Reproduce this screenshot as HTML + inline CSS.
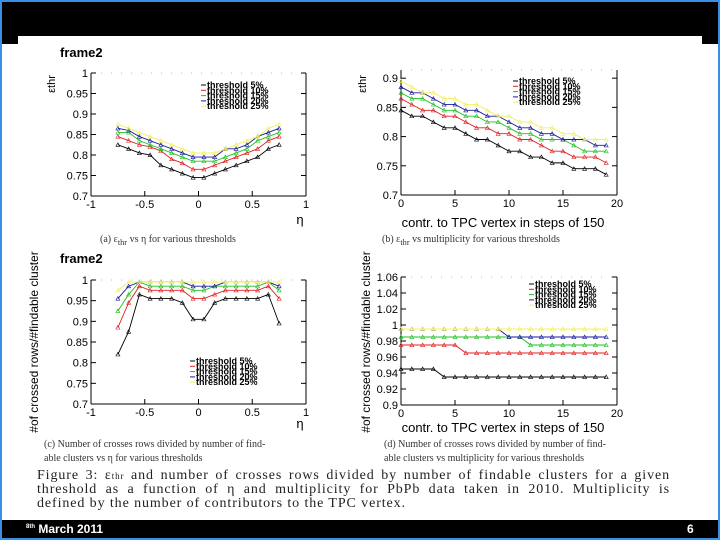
<!DOCTYPE html>
<html><head><meta charset="utf-8">
<style>
body{margin:0;width:720px;height:540px;overflow:hidden;background:#3a8ee6;font-family:"Liberation Sans",sans-serif}
#page{position:absolute;left:2px;top:2px;width:716px;height:536px;background:#fff}
.t{position:absolute;white-space:nowrap}
.serif{font-family:"Liberation Serif",serif;color:#333}
.cl{position:absolute;left:35px;width:633px;font-family:"Liberation Serif",serif;font-size:14px;letter-spacing:0.9px;color:#222;text-align:justify;text-align-last:justify;white-space:nowrap;line-height:14px}
</style></head><body>
<div id="page">
<div style="position:absolute;left:0;top:0;width:716px;height:34px;background:#000"></div>
<div style="position:absolute;left:0;top:34px;width:16px;height:8px;background:#000"></div>
<div style="position:absolute;left:700px;top:34px;width:16px;height:8px;background:#000"></div>
<div style="position:absolute;left:0;top:518px;width:716px;height:18px;background:#000"></div>
<div class="t" style="left:24px;top:520px;color:#fff;font-weight:bold;font-size:12px"><sup style="font-size:6px">8th</sup> March 2011</div>
<div class="t" style="left:685px;top:520px;color:#fff;font-weight:bold;font-size:12px">6</div>
<svg id="svg" width="716" height="536" style="position:absolute;left:-2px;top:-2px;overflow:visible"></svg>
<div class="t serif" style="left:98px;top:232px;font-size:10px">(a) ε<sub>thr</sub> vs η for various thresholds</div>
<div class="t serif" style="left:380px;top:232px;font-size:10px">(b) ε<sub>thr</sub> vs multiplicity for various thresholds</div>
<div class="t serif" style="left:42px;top:436px;font-size:10px;line-height:14px">(c) Number of crosses rows divided by number of find-<br>able clusters vs η for various thresholds</div>
<div class="t serif" style="left:382px;top:436px;font-size:10px;line-height:14px">(d) Number of crosses rows divided by number of find-<br>able clusters vs multiplicity for various thresholds</div>
<div>
<div class="cl" style="top:467px">Figure 3: ε<span style="font-size:9px">thr</span> and number of crosses rows divided by number of findable clusters for a given</div>
<div class="cl" style="top:481px">threshold as a function of η and multiplicity for PbPb data taken in 2010. Multiplicity is</div>
<div class="cl" style="top:495px;width:auto;text-align-last:auto">defined by the number of contributors to the TPC vertex.</div>
</div>
</div>
<script>
const etaCats=[-0.75,-0.65,-0.55,-0.45,-0.35,-0.25,-0.15,-0.05,0.05,0.15,0.25,0.35,0.45,0.55,0.65,0.75];
const multCats=[0,1,2,3,4,5,6,7,8,9,10,11,12,13,14,15,16,17,18,19];
const seriesNames=["threshold 5%","threshold 10%","threshold 15%","threshold 20%","threshold 25%"];
const seriesColors=["#000","#e02020","#20c020","#1a1a9a","#f0f060"];
const aBlack=[0.825,0.815,0.805,0.80,0.775,0.765,0.755,0.745,0.745,0.755,0.765,0.775,0.785,0.795,0.815,0.825];
const aRed=[0.845,0.835,0.825,0.82,0.81,0.79,0.78,0.765,0.765,0.775,0.785,0.795,0.805,0.815,0.835,0.845];
const aGreen=[0.855,0.855,0.835,0.825,0.815,0.805,0.795,0.785,0.785,0.785,0.795,0.805,0.815,0.835,0.845,0.855];
const aBlue=[0.865,0.86,0.845,0.835,0.825,0.815,0.805,0.795,0.795,0.795,0.815,0.815,0.825,0.845,0.855,0.865];
const aYellow=[0.875,0.865,0.855,0.845,0.835,0.825,0.815,0.805,0.805,0.805,0.815,0.825,0.835,0.845,0.865,0.875];
const bBlack=[0.845,0.835,0.835,0.825,0.815,0.815,0.805,0.795,0.795,0.785,0.775,0.775,0.765,0.765,0.755,0.755,0.745,0.745,0.745,0.735];
const bRed=[0.865,0.855,0.845,0.845,0.835,0.835,0.825,0.815,0.815,0.805,0.805,0.795,0.795,0.785,0.775,0.775,0.765,0.765,0.765,0.755];
const bGreen=[0.875,0.865,0.865,0.855,0.845,0.845,0.835,0.835,0.825,0.825,0.815,0.805,0.805,0.795,0.795,0.795,0.785,0.775,0.775,0.775];
const bBlue=[0.885,0.875,0.875,0.865,0.855,0.855,0.845,0.845,0.835,0.835,0.825,0.815,0.815,0.805,0.805,0.795,0.795,0.795,0.785,0.785];
const bYellow=[0.895,0.885,0.875,0.875,0.865,0.865,0.855,0.855,0.845,0.835,0.835,0.825,0.825,0.815,0.815,0.805,0.805,0.795,0.795,0.795];
const cBlack=[0.82,0.875,0.965,0.955,0.955,0.955,0.945,0.905,0.905,0.945,0.955,0.955,0.955,0.955,0.965,0.895];
const cRed=[0.885,0.945,0.985,0.975,0.975,0.975,0.975,0.955,0.955,0.965,0.975,0.975,0.975,0.975,0.985,0.955];
const cGreen=[0.925,0.965,0.995,0.985,0.985,0.985,0.985,0.975,0.975,0.985,0.985,0.985,0.985,0.985,0.995,0.975];
const cBlue=[0.955,0.985,0.995,0.995,0.995,0.995,0.995,0.985,0.985,0.985,0.995,0.995,0.995,0.995,0.995,0.985];
const cYellow=[0.975,0.995,0.995,0.995,0.995,0.995,0.995,0.995,0.995,0.995,0.995,0.995,0.995,0.995,0.995,0.995];
const dBlack=[0.945,0.945,0.945,0.945,0.935,0.935,0.935,0.935,0.935,0.935,0.935,0.935,0.935,0.935,0.935,0.935,0.935,0.935,0.935,0.935];
const dRed=[0.975,0.975,0.975,0.975,0.975,0.975,0.965,0.965,0.965,0.965,0.965,0.965,0.965,0.965,0.965,0.965,0.965,0.965,0.965,0.965];
const dGreen=[0.985,0.985,0.985,0.985,0.985,0.985,0.985,0.985,0.985,0.985,0.985,0.985,0.975,0.975,0.975,0.975,0.975,0.975,0.975,0.975];
const dBlue=[0.995,0.995,0.995,0.995,0.995,0.995,0.995,0.995,0.995,0.995,0.985,0.985,0.985,0.985,0.985,0.985,0.985,0.985,0.985,0.985];
const dYellow=[0.995,0.995,0.995,0.995,0.995,0.995,0.995,0.995,0.995,0.995,0.995,0.995,0.995,0.995,0.995,0.995,0.995,0.995,0.995,0.995];
const etaTicks=["-1","-0.5","0","0.5","1"];
const multTicks=["0","5","10","15","20"];
const yTicksA=["0.7","0.75","0.8","0.85","0.9","0.95","1"];
const yTicksB=["0.7","0.75","0.8","0.85","0.9"];
const yTicksD=["0.9","0.92","0.94","0.96","0.98","1","1.02","1.04","1.06"];

const svg=document.getElementById('svg');
const NS='http://www.w3.org/2000/svg';
function mk(tag,attrs,parent){const e=document.createElementNS(NS,tag);for(const k in attrs)e.setAttribute(k,attrs[k]);(parent||svg).appendChild(e);return e;}
function txt(x,y,s,size,anchor,parent,weight){const e=mk('text',{x:x,y:y,'font-size':size,'text-anchor':anchor||'start','font-family':'Liberation Sans, sans-serif','font-weight':weight||'normal',fill:'#000'},parent);e.textContent=s;return e;}

function plot(p){
  const g=mk('g',{});
  
  
  const sx=v=>p.x0+(v-p.xmin)/(p.xmax-p.xmin)*(p.x1-p.x0);
  const sy=v=>p.y1-(v-p.ymin)/(p.ymax-p.ymin)*(p.y1-p.y0);
  mk('line',{x1:p.x0,y1:p.y1,x2:p.x1,y2:p.y1,stroke:'#000','stroke-width':1},g);
  mk('line',{x1:p.x0,y1:p.y0,x2:p.x0,y2:p.y1,stroke:'#000','stroke-width':1},g);
  mk('line',{x1:p.x1,y1:p.y0,x2:p.x1,y2:p.y1,stroke:'#000','stroke-width':1},g);
  mk('line',{x1:p.x0,y1:p.y0,x2:p.x1,y2:p.y0,stroke:'#bbb','stroke-width':1,'stroke-dasharray':'1 9'},g);
  p.xt.forEach(t=>{const x=sx(parseFloat(t));mk('line',{x1:x,y1:p.y1,x2:x,y2:p.y1-5,stroke:'#000'},g);txt(x,p.y1+12,t,11,'middle',g);});
  p.yt.forEach(t=>{const y=sy(parseFloat(t));mk('line',{x1:p.x0,y1:y,x2:p.x0+5,y2:y,stroke:'#000'},g);mk('line',{x1:p.x1,y1:y,x2:p.x1-5,y2:y,stroke:'#000'},g);txt(p.x0-3,y+4,t,11,'end',g);});
  [0,1,2,3,4].forEach(i=>{
    const vals=p.series[i];
    const pts=p.cats.map((c,j)=>sx(c)+','+sy(vals[j])).join(' ');
    const l=mk('polyline',{points:pts,fill:'none',stroke:seriesColors[i],'stroke-width':0.9},g);
    
    
    p.cats.forEach((c,j)=>{const x=sx(c),y=sy(vals[j]);
      const m=mk('path',{d:`M${x-2},${y+1.6} L${x+2},${y+1.6} L${x},${y-2}Z`,fill:'none',stroke:seriesColors[i],'stroke-width':0.6},g);
      
      });
  });
  const lg=mk('g',{},g);
  
  
  seriesNames.forEach((n,i)=>{const y=p.ly+i*5.3;
    mk('line',{x1:p.lx-6,y1:y-3,x2:p.lx-1,y2:y-3,stroke:seriesColors[i],'stroke-width':1},lg);
    txt(p.lx,y,n,9,'start',lg,'bold');});
  return {g,sx,sy};
}

txt(60,57,'frame2',13,'start',null,'bold');
txt(60,263,'frame2',13,'start',null,'bold');
plot({name:'chart-a',x0:91,x1:306,y0:73,y1:196,xmin:-1,xmax:1,ymin:0.7,ymax:1,xt:etaTicks,yt:yTicksA,cats:etaCats,series:[aBlack,aRed,aGreen,aBlue,aYellow],lx:207,ly:88});
plot({name:'chart-b',x0:401,x1:617,y0:70,y1:195,xmin:0,xmax:20,ymin:0.7,ymax:0.914,xt:multTicks,yt:yTicksB,cats:multCats,series:[bBlack,bRed,bGreen,bBlue,bYellow],lx:519,ly:84});
plot({name:'chart-c',x0:91,x1:306,y0:280,y1:404,xmin:-1,xmax:1,ymin:0.7,ymax:1,xt:etaTicks,yt:yTicksA,cats:etaCats,series:[cBlack,cRed,cGreen,cBlue,cYellow],lx:196,ly:364});
plot({name:'chart-d',x0:401,x1:617,y0:277,y1:405,xmin:0,xmax:20,ymin:0.9,ymax:1.06,xt:multTicks,yt:yTicksD,cats:multCats,series:[dBlack,dRed,dGreen,dBlue,dYellow],lx:535,ly:287});

function lab(x,y,s,size,name,rot,anchor){const e=txt(x,y,s,size,anchor||'middle');if(rot)e.setAttribute('transform',`rotate(-90 ${x} ${y})`);
  
  }
lab(55,84,'εthr',11,'y-axis-title-a',true);
lab(366,84,'εthr',11,'y-axis-title-b',true);
lab(300,224,'η',13,'x-axis-title-a');
lab(300,428,'η',13,'x-axis-title-c');
lab(503,227,'contr. to TPC vertex in steps of 150',13,'x-axis-title-b');
lab(503,432,'contr. to TPC vertex in steps of 150',13,'x-axis-title-d');
lab(38,342,'#of crossed rows/#findable cluster',12,'y-axis-title-c',true);
lab(370,342,'#of crossed rows/#findable cluster',12,'y-axis-title-d',true);
</script>
</body></html>
